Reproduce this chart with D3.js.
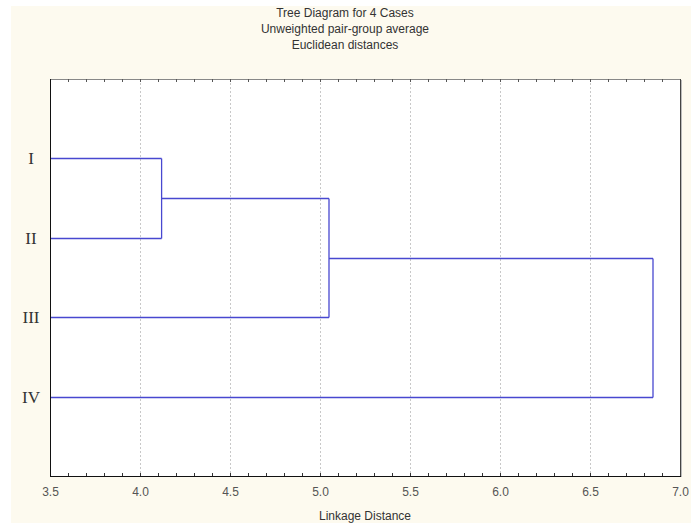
<!DOCTYPE html>
<html><head><meta charset="utf-8">
<script src="https://cdn.jsdelivr.net/npm/d3@7"></script>
<style>
html,body{margin:0;padding:0;background:#fff;}
svg{display:block;}
</style></head>
<body>
<svg id="chart" width="691" height="525"></svg>
<script>
// ---- data ----
const titleLines = ["Tree Diagram for 4 Cases", "Unweighted pair-group average", "Euclidean distances"];
const xAxisTitle = "Linkage Distance";
const cases = ["I", "II", "III", "IV"];
// agglomeration steps: cluster ids (0..3 leaves, 4.. new clusters)
const mergeA = [0, 4, 5];
const mergeB = [1, 2, 3];
const mergeHeight = [4.12, 5.05, 6.85];
const xTicks = [3.5, 4.0, 4.5, 5.0, 5.5, 6.0, 6.5, 7.0];

// ---- layout ----
const svg = d3.select("#chart");
const W = 691, H = 525;
const m = {left: 50, right: 11, top: 79, bottom: 49};
const pw = W - m.left - m.right, ph = H - m.top - m.bottom;

svg.append("rect").attr("x", 11).attr("y", 6).attr("width", W - 11).attr("height", 517).attr("fill", "#fdfaef");

const x = d3.scaleLinear().domain([3.5, 7.0]).range([m.left, m.left + pw]);
const y = d3.scaleLinear().domain([0, cases.length + 1]).range([m.top, m.top + ph]);

// plot area
svg.append("rect").attr("x", m.left).attr("y", m.top).attr("width", pw).attr("height", ph).attr("fill", "#fff");

// grid
svg.append("g").selectAll("line").data(xTicks.slice(1, -1)).join("line")
  .attr("x1", d => x(d) + 0.5).attr("x2", d => x(d) + 0.5)
  .attr("y1", m.top).attr("y2", m.top + ph)
  .attr("stroke", "#c8c8c8").attr("stroke-dasharray", "2,2").attr("stroke-width", 1);

// dendrogram
const clip = svg.append("clipPath").attr("id", "clip").append("rect")
  .attr("x", m.left).attr("y", m.top).attr("width", pw).attr("height", ph);
const nodes = cases.map((c, i) => ({h: x.domain()[0], pos: i + 1}));
const segs = [];
mergeA.forEach((a, i) => {
  const A = nodes[a], B = nodes[mergeB[i]], h = mergeHeight[i];
  segs.push([A.h, A.pos, h, A.pos]);
  segs.push([B.h, B.pos, h, B.pos]);
  segs.push([h, A.pos, h, B.pos]);
  nodes.push({h: h, pos: (A.pos + B.pos) / 2});
});
svg.append("g").attr("clip-path", "url(#clip)").selectAll("line").data(segs).join("line")
  .attr("x1", d => x(d[0])).attr("y1", d => Math.round(y(d[1])) + 0.5)
  .attr("x2", d => x(d[2])).attr("y2", d => Math.round(y(d[3])) + 0.5)
  .attr("stroke", "#4848d0").attr("stroke-width", 1.3);

// frame
svg.append("line").attr("x1", m.left).attr("x2", m.left + pw).attr("y1", m.top + 0.5).attr("y2", m.top + 0.5).attr("stroke", "#888");
svg.append("line").attr("x1", m.left + pw + 0.5).attr("x2", m.left + pw + 0.5).attr("y1", m.top).attr("y2", m.top + ph).attr("stroke", "#444");
svg.append("line").attr("x1", m.left + pw + 1.5).attr("x2", m.left + pw + 1.5).attr("y1", m.top + 1).attr("y2", m.top + ph + 1).attr("stroke", "#bbb");
svg.append("line").attr("x1", m.left + 0.5).attr("x2", m.left + 0.5).attr("y1", m.top).attr("y2", m.top + ph + 0.5).attr("stroke", "#111");
svg.append("line").attr("x1", m.left).attr("x2", m.left + pw + 1).attr("y1", m.top + ph + 0.5).attr("y2", m.top + ph + 0.5).attr("stroke", "#111");

// axes
const minor = d3.range(35, 71).map(v => v / 10);
const bottomAxis = d3.axisBottom(x).tickValues(xTicks).tickFormat(d3.format(".1f")).tickSize(0).tickPadding(11);
const gb = svg.append("g").attr("transform", `translate(0,${m.top + ph})`).call(bottomAxis);
gb.select(".domain").remove();
gb.selectAll("text").attr("font-family", "Liberation Sans, Arial, sans-serif").attr("font-size", 12).attr("fill", "#555");
svg.append("g").selectAll("line").data(minor.slice(1, -1)).join("line")
  .attr("x1", d => Math.round(x(d)) + 0.5).attr("x2", d => Math.round(x(d)) + 0.5)
  .attr("y1", m.top + ph).attr("y2", m.top + ph - 3).attr("stroke", "#333");
svg.append("g").selectAll("line").data(minor.slice(1, -1)).join("line")
  .attr("x1", d => Math.round(x(d)) + 0.5).attr("x2", d => Math.round(x(d)) + 0.5)
  .attr("y1", m.top).attr("y2", m.top + 3).attr("stroke", "#555");

// y labels
svg.append("g").selectAll("text").data(cases).join("text")
  .attr("x", 31).attr("y", (d, i) => y(i + 1)).attr("dy", "0.35em")
  .attr("text-anchor", "middle").attr("font-family", "Liberation Serif, Times New Roman, serif")
  .attr("font-size", 17).attr("fill", "#333").text(d => d);

// titles
svg.append("g").selectAll("text").data(titleLines).join("text")
  .attr("x", 345).attr("y", (d, i) => 17 + i * 16).attr("text-anchor", "middle")
  .attr("font-family", "Liberation Sans, Arial, sans-serif").attr("font-size", 12).attr("fill", "#333").text(d => d);
svg.append("text").attr("x", x(5.25)).attr("y", 520).attr("text-anchor", "middle")
  .attr("font-family", "Liberation Sans, Arial, sans-serif").attr("font-size", 12).attr("fill", "#333").text(xAxisTitle);
</script>
</body></html>
